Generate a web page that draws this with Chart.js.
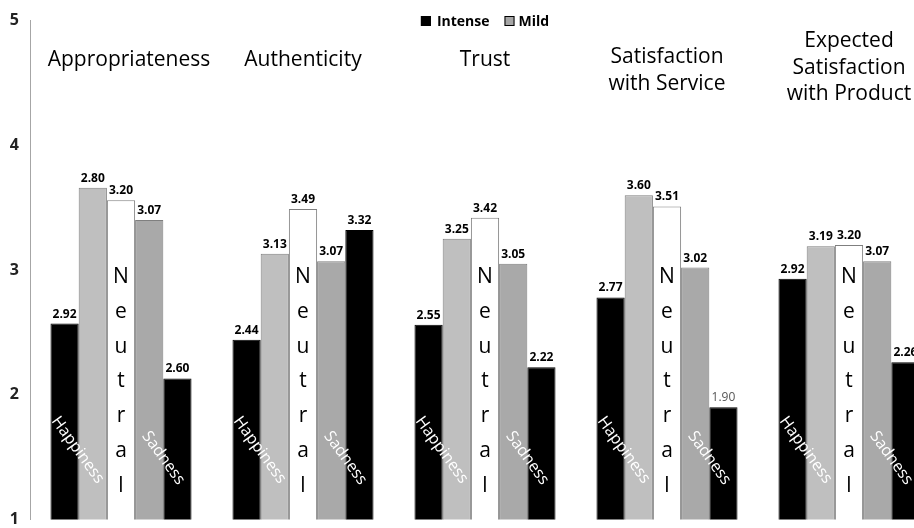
<!DOCTYPE html>
<html>
<head>
<meta charset="utf-8">
<title>Emociones</title>
<script src="https://cdn.jsdelivr.net/npm/chart.js@4.4.1/dist/chart.umd.min.js"></script>
<style>
    html, body { margin: 0; padding: 0; background: #fff; overflow: hidden; }
    #contenedorGrafico { position: relative; width: 944px; height: 540px; }
</style>
</head>
<body class="index">
<div id="contenedorGrafico"><canvas id="graficoEmociones"></canvas></div>
<script>
// categories (one entry per group, lines of the title)
var categorias = [
    ['Appropriateness'],
    ['Authenticity'],
    ['Trust'],
    ['Satisfaction', 'with Service'],
    ['Expected', 'Satisfaction', 'with Product']
];

// bar heights
var intensaFelicidad = [2.57, 2.44, 2.56, 2.78, 2.93];
var leveFelicidad = [3.66, 3.13, 3.25, 3.60, 3.19];
var neutral = [3.56, 3.49, 3.42, 3.51, 3.20];
var leveTristeza = [3.40, 3.07, 3.05, 3.02, 3.07];
var intensaTristeza = [2.13, 3.32, 2.22, 1.90, 2.26];

// numbers printed over the bars (as printed, even where they differ)
var etiquetasIntensaFelicidad = ['2.92', '2.44', '2.55', '2.77', '2.92'];
var etiquetasLeveFelicidad = ['2.80', '3.13', '3.25', '3.60', '3.19'];
var etiquetasNeutral = ['3.20', '3.49', '3.42', '3.51', '3.20'];
var etiquetasLeveTristeza = ['3.07', '3.07', '3.05', '3.02', '3.07'];
var etiquetasIntensaTristeza = ['2.60', '3.32', '2.22', '1.90', '2.26'];

var ticksY = [1, 2, 3, 4, 5];
var leyenda = ['Intense', 'Mild'];

var FUENTE = '"Open Sans", "DejaVu Sans", sans-serif';

var textosPlugin = {
    id: 'textos',
    afterDatasetsDraw: function (chart) {
        var ctx = chart.ctx;
        var area = chart.chartArea;
        var escalaX = chart.scales.x;
        var etiquetas = [etiquetasIntensaFelicidad, etiquetasLeveFelicidad, etiquetasNeutral,
            etiquetasLeveTristeza, etiquetasIntensaTristeza];
        var barras = [0, 1, 2, 3, 4].map(function (d) { return chart.getDatasetMeta(d).data; });

        ctx.save();

        // titles over each group
        ctx.fillStyle = '#000';
        ctx.textAlign = 'center';
        ctx.textBaseline = 'alphabetic';
        ctx.font = '21px ' + FUENTE;
        var primeraLinea = {1: 66, 2: 63, 3: 47};
        categorias.forEach(function (lineas, i) {
            var cx = escalaX.getPixelForValue(i) + (i === 0 ? 8 : 0);
            var y0 = primeraLinea[lineas.length];
            lineas.forEach(function (linea, j) {
                ctx.fillText(linea, cx, y0 + j * 26.5);
            });
        });

        // value labels
        etiquetas.forEach(function (lista, d) {
            lista.forEach(function (texto, i) {
                var b = barras[d][i];
                if (d === 4 && i === 3) {
                    ctx.font = '12px ' + FUENTE;
                    ctx.fillStyle = '#555';
                } else {
                    ctx.font = 'bold 12px ' + FUENTE;
                    ctx.fillStyle = '#000';
                }
                ctx.fillText(texto, b.x, b.y - 6);
            });
        });

        // words written inside the bars
        categorias.forEach(function (c, i) {
            var b1 = barras[0][i], b3 = barras[2][i], b4 = barras[3][i];

            ctx.fillStyle = '#fff';
            ctx.font = '16px ' + FUENTE;
            ctx.textBaseline = 'middle';
            ctx.save();
            ctx.translate(b1.x + b1.width / 2 - 1, 450);
            ctx.rotate(54 * Math.PI / 180);
            ctx.fillText('Happiness', 0, 0);
            ctx.restore();

            ctx.save();
            ctx.translate(b4.x + b4.width / 2, 458);
            ctx.rotate(54 * Math.PI / 180);
            ctx.fillText('Sadness', 0, 0);
            ctx.restore();

            ctx.fillStyle = '#000';
            ctx.font = '21px ' + FUENTE;
            ctx.textBaseline = 'alphabetic';
            'Neutral'.split('').forEach(function (letra, j) {
                ctx.fillText(letra, b3.x, 283 + j * 34.8);
            });
        });

        // legend
        ctx.font = 'bold 14px ' + FUENTE;
        ctx.textAlign = 'left';
        var anchos = leyenda.map(function (t) { return ctx.measureText(t).width; });
        var total = 10 + 6 + anchos[0] + 15 + 10 + 4 + anchos[1];
        var lx = (area.left + area.right) / 2 - total / 2;
        var colores = ['#000000', '#a6a6a6'];
        leyenda.forEach(function (t, k) {
            ctx.fillStyle = colores[k];
            ctx.fillRect(lx, 16, 10, 10);
            ctx.strokeStyle = '#000';
            ctx.lineWidth = 1;
            ctx.strokeRect(lx + 0.5, 16.5, 9, 9);
            lx += 10 + (k === 0 ? 6 : 4);
            ctx.fillStyle = '#000';
            ctx.fillText(t, lx, 26);
            lx += anchos[k] + 15;
        });

        ctx.restore();
    }
};

function graficoEmociones() {
    var ctx = document.getElementById('graficoEmociones').getContext('2d');
    var chart = new Chart(ctx, {
        type: 'bar',
        data: {
            labels: categorias.map(function (c) { return c.join(' '); }),
            datasets: [
                {label: 'Intense Happiness', data: intensaFelicidad, backgroundColor: '#000000', borderColor: '#000000'},
                {label: 'Mild Happiness', data: leveFelicidad, backgroundColor: '#bfbfbf', borderColor: '#7f7f7f'},
                {label: 'Neutral', data: neutral, backgroundColor: '#ffffff', borderColor: '#7f7f7f'},
                {label: 'Mild Sadness', data: leveTristeza, backgroundColor: '#a9a9a9', borderColor: '#7f7f7f'},
                {label: 'Intense Sadness', data: intensaTristeza, backgroundColor: '#000000', borderColor: '#000000'}
            ]
        },
        options: {
            responsive: true,
            maintainAspectRatio: false,
            animation: false,
            layout: {padding: {top: 17, bottom: 17, left: 0, right: 4}},
            datasets: {
                bar: {borderWidth: 1, borderSkipped: false, categoryPercentage: 0.775, barPercentage: 1}
            },
            plugins: {
                legend: {display: false},
                tooltip: {enabled: false}
            },
            scales: {
                x: {display: false},
                y: {
                    min: ticksY[0],
                    max: ticksY[ticksY.length - 1],
                    afterFit: function (scale) { scale.width = 30; },
                    afterBuildTicks: function (scale) {
                        scale.ticks = ticksY.map(function (v) { return {value: v}; });
                    },
                    grid: {display: false, drawTicks: false},
                    border: {display: true, color: '#a6a6a6', width: 1},
                    ticks: {
                        padding: 11,
                        color: '#222',
                        font: {family: FUENTE, size: 16, weight: 'bold'}
                    }
                }
            }
        },
        plugins: [textosPlugin]
    });
}

graficoEmociones();
</script>
</body>
</html>
